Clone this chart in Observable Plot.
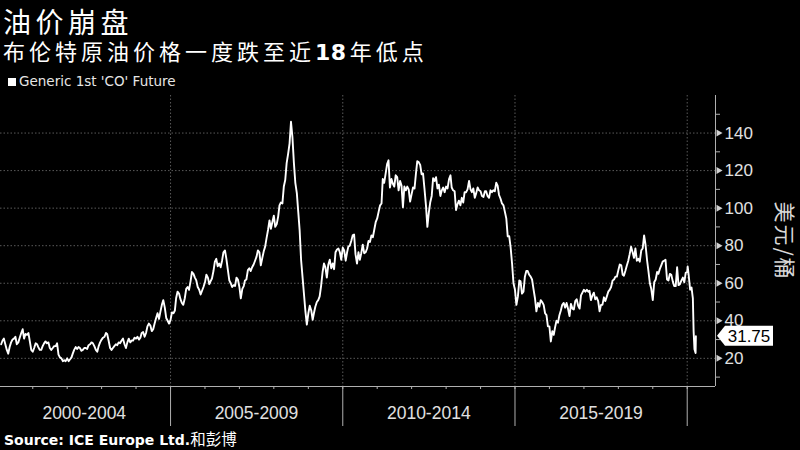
<!DOCTYPE html>
<html><head><meta charset="utf-8">
<script src="https://cdn.jsdelivr.net/npm/d3@7"></script>
<script src="https://cdn.jsdelivr.net/npm/@observablehq/plot@0.6"></script>
<style>
html,body{margin:0;padding:0;background:#000;}
#wrap{position:relative;width:800px;height:450px;overflow:hidden;background:#000;color:#fff;font-family:"Noto Sans CJK SC","Noto Sans",sans-serif;}
.title{position:absolute;left:3px;top:7px;font-size:28px;line-height:28px;letter-spacing:4.5px;white-space:nowrap;}
.subtitle{position:absolute;left:3px;top:38px;font-size:22px;line-height:25px;letter-spacing:4px;white-space:nowrap;}
.subtitle b{font-family:"DejaVu Sans";font-weight:bold;letter-spacing:0.5px;margin-right:3px;}
.legend{position:absolute;left:8px;top:73px;font-family:"DejaVu Sans";font-size:13.5px;line-height:16px;color:#e6e6e6;white-space:nowrap;}
.legend i{display:inline-block;width:8px;height:8px;background:#fff;margin-right:3px;}
#chart{position:absolute;left:0;top:90px;}
.ylabel{position:absolute;left:775px;top:241px;transform:translateY(-50%);writing-mode:vertical-rl;text-orientation:sideways;font-size:21px;line-height:22px;letter-spacing:2px;color:#d8d8d8;white-space:nowrap;}
.source{position:absolute;left:4px;top:429px;font-size:15.5px;line-height:19px;color:#fff;white-space:nowrap;}
.source b{font-family:"DejaVu Sans";font-weight:bold;font-size:14px;}
</style></head>
<body>
<div id="wrap">
  <div class="title">油价崩盘</div>
  <div class="subtitle">布伦特原油价格一度跌至近<b>18</b>年低点</div>
  <div class="legend"><i></i>Generic 1st 'CO' Future</div>
  <div id="chart"></div>
  <div class="ylabel">美元/桶</div>
  <div class="source"><b>Source: ICE Europe Ltd.</b>和彭博</div>
</div>
<script>
// Semi-monthly readings (1st and 16th of each month), USD/bbl
const p2000 = [27.5,29.5,30.5,27.5,24.5,22.5,26.0,28.5,30.0,30.5,31.5,27.5,28.5,31.0,33.5,35.5,30.5,33.0,32.5,33.5,29.0,24.5]; // starts Feb
const p2001 = [23.5,25.5,28.0,27.5,26.0,24.5,24.5,26.5,28.0,29.0,28.0,28.5,25.5,24.5,25.5,26.5,26.5,28.0,22.0,20.5,20.0,18.5,19.0,18.5];
const p2002 = [20.0,18.5,19.5,20.5,22.5,24.5,26.0,25.0,26.0,25.5,24.0,24.5,25.5,25.5,25.0,27.0,27.5,28.5,28.0,26.5,24.5,23.5,26.5,28.5];
const p2003 = [30.0,31.0,31.5,33.5,33.0,29.5,25.5,24.5,25.5,26.5,27.5,27.0,28.5,28.0,29.5,30.5,27.5,25.5,28.5,30.5,28.5,29.5,29.5,31.0];
const p2004 = [30.5,31.5,30.0,31.0,33.5,34.0,31.5,33.5,37.0,38.5,37.5,34.5,35.5,38.5,41.5,44.0,41.0,45.0,48.5,51.0,47.0,41.5,40.0,38.5];
const p2005 = [40.5,44.5,44.0,45.5,52.0,55.5,54.5,51.5,49.5,48.5,52.0,57.0,58.0,56.5,61.0,66.0,65.0,63.0,61.5,58.0,56.5,54.0,56.0,58.0];
const p2006 = [60.5,64.5,63.0,59.5,61.0,62.5,66.5,71.5,73.0,69.0,70.5,68.5,72.0,76.5,77.5,73.0,67.0,61.5,60.0,58.0,59.0,58.5,63.0,62.0];
const p2007 = [58.0,52.0,57.0,58.5,61.5,62.0,67.0,68.0,66.5,68.5,70.0,72.0,74.0,77.5,76.5,69.5,73.5,77.0,79.5,84.0,88.5,93.5,89.0,92.5];
const p2008 = [96.0,90.0,91.5,95.5,101.5,103.0,102.5,111.5,115.0,124.0,129.0,134.5,146.0,138.0,124.0,113.5,108.0,98.0,88.0,72.5,63.0,54.0,45.0,38.0];
const p2009 = [44.0,48.0,45.5,40.5,44.0,47.5,50.0,51.0,53.0,58.5,66.0,70.5,68.5,63.0,70.0,72.5,68.0,70.5,67.5,76.5,78.0,78.5,76.5,72.5];
const p2010 = [79.0,77.5,72.0,76.5,79.5,80.0,82.5,85.5,86.0,75.5,70.5,76.5,72.5,76.0,80.5,76.0,76.5,78.5,82.5,82.0,85.5,84.5,88.5,92.5];
const p2011 = [94.5,98.0,101.5,102.5,115.5,113.5,118.5,123.5,125.5,111.0,115.5,113.0,111.5,117.5,116.5,109.5,114.5,112.0,100.5,111.5,109.5,111.5,110.0,103.5];
const p2012 = [107.5,111.0,110.5,118.5,125.0,124.5,123.0,118.0,118.5,110.5,101.5,90.0,97.5,103.0,106.5,116.0,114.5,116.5,110.5,112.5,106.5,109.5,111.0,108.5];
const p2013 = [111.5,110.5,115.5,117.5,111.0,109.5,109.0,99.0,102.0,104.0,101.5,105.5,103.0,108.5,108.5,110.0,114.5,110.0,108.5,110.5,105.5,108.0,111.0,109.5];
const p2014 = [109.0,106.5,106.0,109.0,109.0,106.5,105.5,109.5,108.5,109.5,109.0,113.5,112.0,107.0,105.0,102.5,101.5,98.0,94.5,85.0,85.0,79.0,70.5,60.0];
const p2015 = [56.5,48.5,53.0,61.5,61.0,54.5,55.5,63.5,66.5,66.5,64.5,63.5,62.0,57.0,52.0,45.0,49.5,47.5,51.0,50.0,48.5,44.0,43.0,37.0];
const p2016 = [37.0,29.0,34.5,32.5,36.5,40.0,39.0,43.0,45.5,48.5,49.5,47.0,49.5,46.5,42.5,49.0,46.5,46.0,50.5,51.5,48.0,46.5,53.5,55.0];
const p2017 = [56.5,55.5,56.5,55.5,56.0,51.0,53.5,55.0,51.5,52.5,50.5,45.0,48.5,48.5,52.5,50.5,53.0,55.5,56.5,58.0,61.5,62.0,63.5,63.5];
const p2018 = [67.0,70.0,69.5,64.5,64.0,66.5,69.5,72.0,75.5,79.5,76.5,73.5,78.5,72.0,73.0,71.5,77.5,78.5,85.5,80.5,72.5,66.5,60.0,57.0];
const p2019 = [51.0,60.5,62.0,66.0,65.0,67.5,69.5,71.5,72.0,72.5,62.0,61.5,65.0,64.5,61.0,58.5,58.5,68.5,59.0,59.5,61.5,63.0,60.5,65.5];
const dates2020 = ["2020-01-01","2020-01-06","2020-01-16","2020-02-01","2020-02-16","2020-03-01","2020-03-09","2020-03-18","2020-03-30","2020-04-02"];
const p2020 = [66.0,68.9,64.6,56.6,57.7,51.9,34.4,24.9,22.8,31.75];

const majorTicks = [20,40,60,80,100,120,140];
const minorTicks = [10,30,50,70,90,110,130,150];
const periodLabels = ["2000-2004","2005-2009","2010-2014","2015-2019"];
const periodMid = ["2002-07-01","2007-07-01","2012-07-01","2017-07-01"].map(d => new Date(d));
const periodBounds = ["2005-01-01","2010-01-01","2015-01-01","2020-01-01"].map(d => new Date(d));
const yearTicks = d3.range(2001, 2021).map(y => new Date(Date.UTC(y, 0, 1)));
const lastLabel = "31.75";

const yearly = [[2000,p2000,1],[2001,p2001,0],[2002,p2002,0],[2003,p2003,0],[2004,p2004,0],[2005,p2005,0],
  [2006,p2006,0],[2007,p2007,0],[2008,p2008,0],[2009,p2009,0],[2010,p2010,0],[2011,p2011,0],[2012,p2012,0],
  [2013,p2013,0],[2014,p2014,0],[2015,p2015,0],[2016,p2016,0],[2017,p2017,0],[2018,p2018,0],[2019,p2019,0]];
const data = [];
for (const [yr, arr, startMonth] of yearly) {
  arr.forEach((v, i) => data.push({date: new Date(Date.UTC(yr, startMonth + Math.floor(i / 2), i % 2 ? 16 : 1)), price: v}));
}
dates2020.forEach((d, i) => data.push({date: new Date(d), price: p2020[i]}));
const last = data[data.length - 1];

const xDomain = [new Date("2000-01-25"), new Date("2020-10-27")];
const yDomain = [5, 160];
const axisColor = "#b0b0b0";
const gridColor = "#5a5a5a";

const endLabel = (index, scales, values, dimensions) => {
  const y = scales.y(last.price);
  const x0 = dimensions.width - dimensions.marginRight + 2;
  const g = d3.create("svg:g");
  g.append("path")
    .attr("d", `M${x0},${y} L${x0 + 8},${y - 10} H${x0 + 56} V${y + 10} H${x0 + 8} Z`)
    .attr("fill", "#fff");
  g.append("text")
    .attr("x", x0 + 32).attr("y", y).attr("dy", "0.35em")
    .attr("text-anchor", "middle")
    .attr("fill", "#000").attr("font-size", 17)
    .attr("font-family", "Liberation Sans, Arial, sans-serif")
    .text(lastLabel);
  return g.node();
};

const chart = Plot.plot({
  width: 800,
  height: 342,
  marginLeft: 0,
  marginRight: 85,
  marginTop: 5,
  marginBottom: 46,
  style: {background: "#000", color: "#e0e0e0", fontFamily: "Liberation Sans, Arial, sans-serif", overflow: "visible"},
  x: {type: "utc", domain: xDomain, label: null},
  y: {domain: yDomain, label: null},
  marks: [
    Plot.ruleY(majorTicks, {stroke: gridColor, strokeDasharray: "1.5,2"}),
    Plot.ruleX(periodBounds, {stroke: gridColor, strokeDasharray: "1.5,2"}),
    Plot.ruleY([yDomain[0]], {stroke: axisColor}),
    Plot.ruleX([xDomain[1]], {stroke: axisColor}),
    Plot.axisX({ticks: yearTicks, tickSize: 3, tickFormat: () => "", stroke: axisColor, label: null}),
    Plot.axisX({ticks: periodBounds, tickSize: 40, tickFormat: () => "", stroke: axisColor, label: null}),
    Plot.text(periodLabels, {x: (d, i) => periodMid[i], text: d => d, frameAnchor: "bottom", dy: 32, fontSize: 17.5, fill: "#e0e0e0"}),
    Plot.axisY({anchor: "right", ticks: minorTicks, tickSize: 4, tickFormat: () => "", stroke: axisColor, label: null}),
    Plot.dot(majorTicks, {y: d => d, frameAnchor: "right", symbol: "triangle", r: 2.6, rotate: 90, fill: "#d0d0d0", dx: 3}),
    Plot.axisY({anchor: "right", ticks: majorTicks, tickSize: 0, tickPadding: 9, fontSize: 17, fill: "#e0e0e0", label: null}),
    Plot.line(data, {x: "date", y: "price", stroke: "#fff", strokeWidth: 1.9}),
    endLabel
  ]
});
document.getElementById("chart").appendChild(chart);
</script>
</body></html>
